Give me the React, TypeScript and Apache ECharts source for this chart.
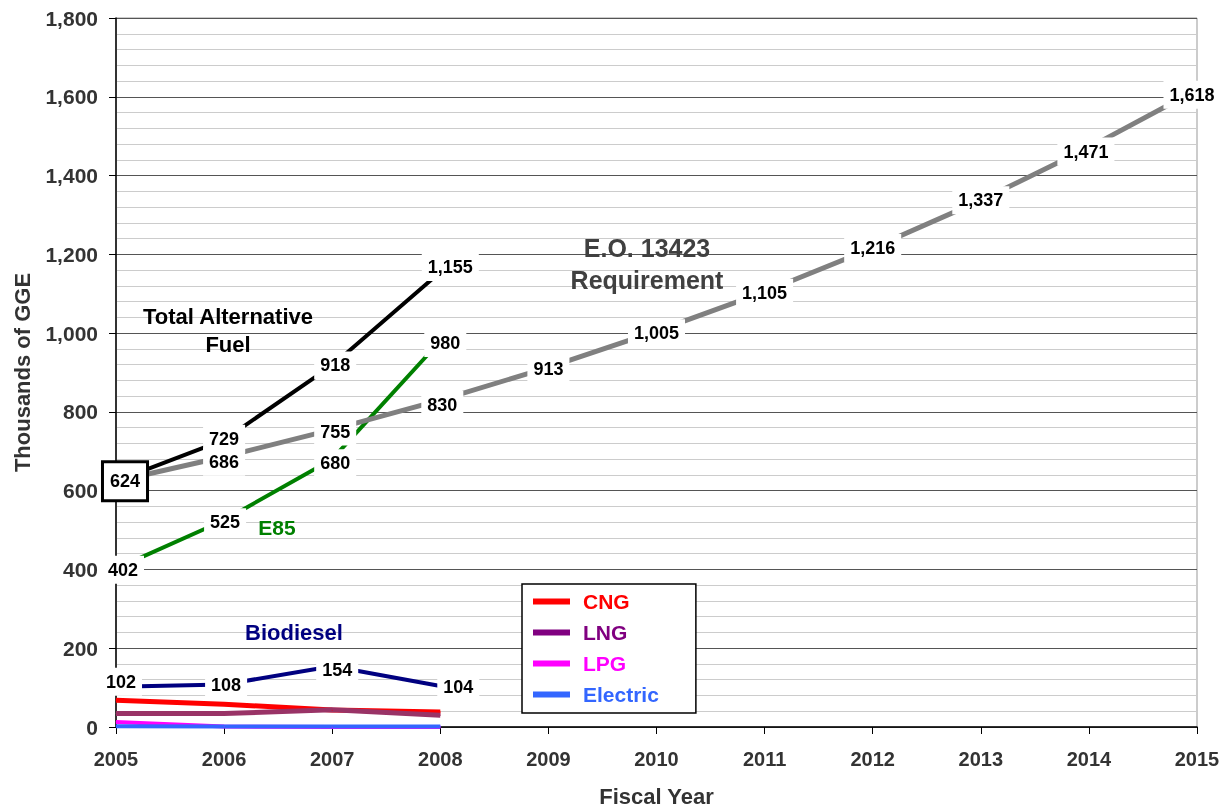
import React, { useEffect, useRef } from "react";
import * as echarts from "echarts";

const years = [2005, 2006, 2007, 2008, 2009, 2010, 2011, 2012, 2013, 2014, 2015];
const totalAlt = [624, 729, 918, 1155];
const eoReq = [624, 686, 755, 830, 913, 1005, 1105, 1216, 1337, 1471, 1618];
const e85 = [402, 525, 680, 980];
const biodiesel = [102, 108, 154, 104];
const cng = [68, 58, 43, 38];
const lng = [34, 34, 44, 30];
const lpg = [13, 1, 0, 0];
const electric = [2, 1, 1, 1];

// label offsets (styling only)
const offTotal: (number[] | null)[] = [null, [0, -1], [3, 0], [10, -5]];
const offEo: number[][] = [[9, 0], [0, 5], [3, 2], [2, 5], [0, 2], [0, 2], [0, 1], [0, 0], [0, 0], [-3, 4], [-5, 5]];
const offE85: number[][] = [[7, 1], [1, 2], [3, 4], [5, 2]];
const offBio: number[][] = [[5, -5], [2, 1], [5, 4], [18, 1]];

const FONT = "'Liberation Sans', Arial, Helvetica, sans-serif";

const baseLabel = {
  show: true,
  position: "inside",
  color: "#000",
  fontWeight: "bold",
  fontSize: 18,
  fontFamily: FONT,
  backgroundColor: "#fff",
  padding: [6, 6, 4, 6],
  formatter: (p: any) => Number(p.value[1]).toLocaleString("en-US"),
};

function mk(name: string, vals: number[], color: string, width: number, offs?: (number[] | null)[], special?: any) {
  return {
    name,
    type: "line",
    symbol: "circle",
    symbolSize: 1,
    itemStyle: { color },
    lineStyle: { color, width, cap: "butt" },
    emphasis: { disabled: true },
    label: offs ? baseLabel : { show: false },
    data: vals.map((v, i) => {
      const d: any = { value: [years[i], v] };
      if (offs) {
        const o = offs[i];
        if (o === null) d.label = { show: false };
        else d.label = { offset: o };
        if (special && special[i]) d.label = { ...d.label, ...special[i] };
      }
      return d;
    }),
  };
}

export default function App() {
  const ref = useRef<HTMLDivElement>(null);
  useEffect(() => {
    const chart = echarts.init(ref.current!, null, { renderer: "svg" });
    const axisText = { color: "#333", fontWeight: "bold", fontSize: 20, fontFamily: FONT };
    const nameText = { color: "#333", fontWeight: "bold", fontSize: 22, fontFamily: FONT };
    chart.setOption({
      animation: false,
      grid: { left: 116, right: 35, top: 18, bottom: 82, show: true, borderColor: "#999", borderWidth: 1, outerBoundsMode: "none" },
      xAxis: {
        type: "value",
        min: 2005,
        max: 2015,
        interval: 1,
        name: "Fiscal Year",
        nameLocation: "middle",
        nameGap: 58,
        nameTextStyle: nameText,
        axisLine: { show: true, lineStyle: { color: "#000", width: 1.5 } },
        axisTick: { show: true, length: 7, lineStyle: { color: "#000" } },
        axisLabel: { ...axisText, margin: 22, formatter: (v: number) => String(v) },
        splitLine: { show: false },
      },
      yAxis: {
        type: "value",
        min: 0,
        max: 1800,
        interval: 200,
        name: "Thousands of GGE",
        nameLocation: "middle",
        nameGap: 83,
        nameTextStyle: nameText,
        axisLine: { show: true, lineStyle: { color: "#000", width: 1.5 } },
        axisTick: { show: true, length: 7, lineStyle: { color: "#000" } },
        axisLabel: { ...axisText, fontSize: 21, margin: 18, formatter: (v: number) => v.toLocaleString("en-US") },
        splitLine: { show: true, lineStyle: { color: "#555", width: 1 } },
        minorTick: { show: false, splitNumber: 5 },
        minorSplitLine: { show: true, lineStyle: { color: "#cccccc", width: 1 } },
      },
      legend: {
        orient: "vertical",
        left: 522,
        top: 584,
        backgroundColor: "#fff",
        borderColor: "#000",
        borderWidth: 1.5,
        borderRadius: 0,
        padding: [7, 37, 8, 11],
        itemWidth: 37,
        itemHeight: 6,
        itemGap: 10,
        icon: "rect",
        selectedMode: false,
        textStyle: { fontWeight: "bold", fontSize: 21, fontFamily: FONT, padding: [0, 0, 0, 8] },
        data: [
          { name: "CNG", itemStyle: { color: "#ff0000" }, textStyle: { color: "#ff0000" } },
          { name: "LNG", itemStyle: { color: "#800080" }, textStyle: { color: "#800080" } },
          { name: "LPG", itemStyle: { color: "#ff00ff" }, textStyle: { color: "#ff00ff" } },
          { name: "Electric", itemStyle: { color: "#3366ff" }, textStyle: { color: "#3366ff" } },
        ],
      },
      graphic: [
        {
          type: "text",
          x: 228,
          y: 302,
          z: 100,
          style: { text: "Total Alternative\nFuel", fill: "#000", font: `bold 22px ${FONT}`, align: "center", verticalAlign: "top", lineHeight: 28 },
        },
        {
          type: "text",
          x: 647,
          y: 232,
          z: 100,
          style: { text: "E.O. 13423\nRequirement", fill: "#404040", font: `bold 25px ${FONT}`, align: "center", lineHeight: 32, verticalAlign: "top" },
        },
        {
          type: "text",
          x: 277,
          y: 517,
          z: 100,
          style: { text: "E85", fill: "#008000", font: `bold 21px ${FONT}`, align: "center", verticalAlign: "top" },
        },
        {
          type: "text",
          x: 294,
          y: 621,
          z: 100,
          style: { text: "Biodiesel", fill: "#000080", font: `bold 22px ${FONT}`, align: "center", verticalAlign: "top" },
        },
      ],
      series: [
        mk("LPG", lpg, "#ff00ff", 4),
        mk("Electric", electric, "#3366ff", 4),
        mk("CNG", cng, "#ff0000", 5),
        mk("LNG", lng, "#993366", 5),
        mk("Biodiesel", biodiesel, "#000080", 4, offBio),
        mk("E85", e85, "#008000", 4, offE85),
        mk("E.O. 13423 Requirement", eoReq, "#808080", 5, offEo, {
          0: { borderColor: "#000", borderWidth: 3, padding: [10, 6, 8, 6] },
        }),
        mk("Total Alternative Fuel", totalAlt, "#000000", 4, offTotal),
      ],
    });
    return () => chart.dispose();
  }, []);
  return <div ref={ref} style={{ position: "fixed", left: 0, top: 0, width: 1232, height: 809 }} />;
}
